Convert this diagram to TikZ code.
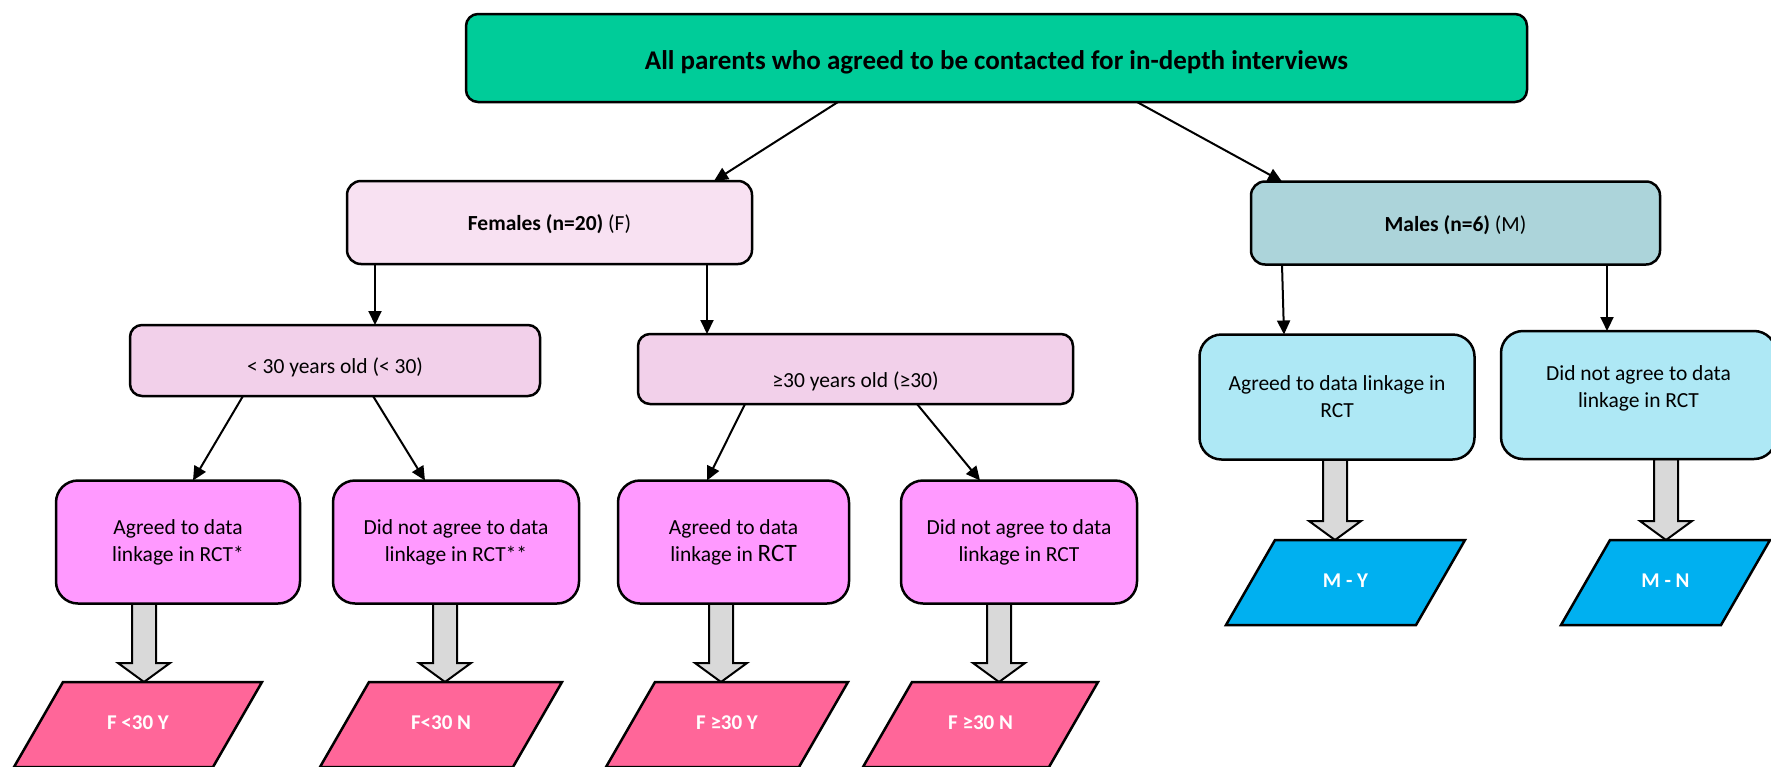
\documentclass[tikz,border=0pt]{standalone}
\usepackage{fontspec}
\setmainfont{Carlito}
\usetikzlibrary{arrows.meta,calc}
\pgfdeclarelayer{background}
\pgfsetlayers{background,main}
\definecolor{topc}{RGB}{0,204,153}
\definecolor{femc}{RGB}{248,225,242}
\definecolor{agec}{RGB}{242,208,234}
\definecolor{magc}{RGB}{255,153,255}
\definecolor{pfc}{RGB}{255,102,153}
\definecolor{malc}{RGB}{172,212,218}
\definecolor{cyac}{RGB}{174,232,245}
\definecolor{pmc}{RGB}{0,176,240}
\definecolor{grayc}{RGB}{217,217,217}
\newcommand{\garrow}[3]{%
  \coordinate (gx) at (#1,0);
  \draw[garr] ($(gx |- #2.south)+(-12,0)$) -- ($(gx |- #2.south)+(12,0)$)
    -- ($(gx |- #3)+(12,-19)$) -- ($(gx |- #3)+(26,-19)$) -- (gx |- #3)
    -- ($(gx |- #3)+(-26,-19)$) -- ($(gx |- #3)+(-12,-19)$) -- cycle;}
\newcommand{\parabox}[6]{%
  \draw[para, fill=#5] (#2,#4) -- (#3,#4) -- (#3-49,#4+85) -- (#2-49,#4+85) -- cycle;
  \coordinate (#1top) at ({(#2+#3)/2},#4);
  \node[ptext] (#1) at ({(#2+#3)/2-24.5},#4+41) {#6};}
\begin{document}
\begin{tikzpicture}[x=1pt,y=-1pt,
  box/.style={draw=black, line width=2.5pt, inner sep=0pt, outer sep=0pt},
  tx/.style={align=center, inner sep=0pt, font=\fontsize{21.5}{27}\selectfont},
  arr/.style={line width=2pt, -{Triangle[length=14pt,width=13pt]}},
  garr/.style={draw=black, line width=2pt, fill=grayc},
  para/.style={draw=black, line width=2.5pt},
  ptext/.style={text=white, font=\bfseries\fontsize{21}{25}\selectfont}]
\useasboundingbox (0,0) rectangle (1771,766);
\clip (0,0) rectangle (1771,766);

\node[box, fill=topc, rounded corners=12pt, minimum width=1061pt, minimum height=88pt] (top) at (996.5,58) {};
\node[tx, font=\bfseries\fontsize{27}{30}\selectfont] (top-t) at ([yshift=-4pt]top.center)
  {All parents who agreed to be contacted for in-depth interviews};

\node[box, fill=femc, rounded corners=14pt, minimum width=405pt, minimum height=83pt] (fem) at (549.5,222.5) {};
\node[tx] (fem-t) at ([yshift=-2pt]fem.center) {\textbf{Females (n=20)} (F)};

\node[box, fill=malc, rounded corners=14pt, minimum width=409pt, minimum height=83pt] (mal) at (1455.5,223) {};
\node[tx] (mal-t) at ([yshift=-2pt]mal.center) {\textbf{Males (n=6)} (M)};

\node[box, fill=agec, rounded corners=12pt, minimum width=410pt, minimum height=71pt] (lt) at (335,360.5) {};
\node[tx] (lt-t) at ([yshift=-7pt]lt.center) {< 30 years old (< 30)};

\node[box, fill=agec, rounded corners=12pt, minimum width=435pt, minimum height=70pt] (ge) at (855.5,369) {};
\node[tx] (ge-t) at ([yshift=-12pt]ge.center) {≥30 years old (≥30)};

\node[box, fill=magc, rounded corners=22pt, minimum width=244pt, minimum height=123pt] (a1) at (178,542) {};
\node[tx] (a1-t) at (a1.center) {Agreed to data\\linkage in RCT*};
\node[box, fill=magc, rounded corners=22pt, minimum width=246pt, minimum height=123pt] (a2) at (456,542) {};
\node[tx] (a2-t) at (a2.center) {Did not agree to data\\linkage in RCT**};
\node[box, fill=magc, rounded corners=22pt, minimum width=231pt, minimum height=123pt] (a3) at (733.5,542) {};
\node[tx] (a3-t) at (a3.center) {Agreed to data\\linkage in {\fontsize{25}{27}\selectfont RCT}};
\node[box, fill=magc, rounded corners=22pt, minimum width=236pt, minimum height=123pt] (a4) at (1019,542) {};
\node[tx] (a4-t) at (a4.center) {Did not agree to data\\linkage in RCT};

\node[box, fill=cyac, rounded corners=22pt, minimum width=275pt, minimum height=125pt] (ma) at (1337,397) {};
\node[tx] (ma-t) at (ma.center) {Agreed to data linkage in\\RCT};
\node[box, fill=cyac, rounded corners=22pt, minimum width=275pt, minimum height=128pt] (mn) at (1638.5,395) {};
\node[tx] (mn-t) at ([yshift=7pt]mn.center) {Did not agree to data\\linkage in RCT};

\parabox{p1}{63}{262}{682}{pfc}{F <30 Y}
\parabox{p2}{369}{562}{682}{pfc}{F<30 N}
\parabox{p3}{655}{848}{682}{pfc}{F ≥30 Y}
\parabox{p4}{912}{1098}{682}{pfc}{F ≥30 N}
\parabox{pm1}{1275}{1465}{540}{pmc}{M - Y}
\parabox{pm2}{1610}{1770}{540}{pmc}{M - N}

\draw[arr] ([xshift=-158.5pt]top.south) -- ([xshift=164.5pt]fem.north);
\draw[arr] ([xshift=140.5pt]top.south) -- ([xshift=-173.5pt]mal.north);
\draw[arr] ([xshift=-174.5pt]fem.south) -- ([xshift=40pt]lt.north);
\draw[arr] ([xshift=157.5pt]fem.south) -- ([xshift=-148.5pt]ge.north);
\draw[arr] ([xshift=-173.5pt]mal.south) -- ([xshift=-53pt]ma.north);
\draw[arr] ([xshift=151.5pt]mal.south) -- ([xshift=-31.5pt]mn.north);
\draw[arr] ([xshift=-92pt]lt.south) -- ([xshift=15pt]a1.north);
\draw[arr] ([xshift=38pt]lt.south) -- ([xshift=-31pt]a2.north);
\draw[arr] ([xshift=-110.5pt]ge.south) -- ([xshift=-26.5pt]a3.north);
\draw[arr] ([xshift=61.5pt]ge.south) -- ([xshift=-39pt]a4.north);

\begin{pgfonlayer}{background}
\garrow{144}{a1}{p1top}
\garrow{445}{a2}{p2top}
\garrow{721}{a3}{p3top}
\garrow{999}{a4}{p4top}
\garrow{1335}{ma}{pm1top}
\garrow{1666}{mn}{pm2top}
\end{pgfonlayer}
\end{tikzpicture}
\end{document}
